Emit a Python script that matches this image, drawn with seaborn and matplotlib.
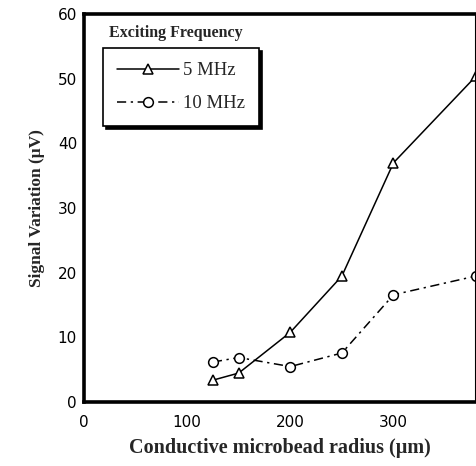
import numpy as np
import pandas as pd
import matplotlib
matplotlib.use("Agg")
import matplotlib.pyplot as plt
import seaborn as sns

# values
radius = [125, 150, 200, 250, 300, 380]
signal_5mhz = [3.4, 4.5, 10.8, 19.5, 37.0, 50.4]
signal_10mhz = [6.2, 6.9, 5.5, 7.6, 16.6, 19.5]
series = ["5 MHz", "10 MHz"]

df = pd.DataFrame({
    "radius": radius * 2,
    "signal": signal_5mhz + signal_10mhz,
    "freq": [series[0]] * len(radius) + [series[1]] * len(radius),
})

sns.set_style("white")
plt.rcParams["font.family"] = ["Liberation Serif", "DejaVu Serif"]

fig = plt.figure(figsize=(4.77, 4.66), dpi=100)
ax = fig.add_axes([0.176, 0.137, 0.822, 0.833])

sns.lineplot(data=df, x="radius", y="signal", hue="freq", style="freq",
             palette={"5 MHz": "black", "10 MHz": "black"},
             markers={"5 MHz": "^", "10 MHz": "o"},
             dashes={"5 MHz": "", "10 MHz": (6, 3, 1.5, 3)},
             markersize=7, markerfacecolor="white", markeredgecolor="black",
             markeredgewidth=1.1, linewidth=1.1, legend=False, ax=ax)

ax.set_xlim(0, 380)
ax.set_ylim(0, 60)
ax.set_xticks([0, 100, 200, 300])
ax.set_yticks(np.arange(0, 61, 10))
ax.tick_params(direction="in", length=4, width=1.2, labelsize=11,
               colors="black")
ax.tick_params(axis="x", pad=9)
ax.tick_params(axis="y", pad=5)
for lab in ax.get_xticklabels() + ax.get_yticklabels():
    lab.set_family("DejaVu Sans")

for side in ["left", "bottom", "top"]:
    ax.spines[side].set_linewidth(2.6)
ax.spines["right"].set_linewidth(1.5)
for s in ax.spines.values():
    s.set_color("black")

ax.set_xlabel("Conductive microbead radius (\u03bcm)", fontsize=14.5,
              fontweight="bold", labelpad=6)
ax.set_ylabel("Signal Variation (\u03bcV)", fontsize=12.5,
              fontweight="bold", labelpad=9)

handles = ax.lines[:2]
leg = ax.legend(handles, series, loc="upper left",
                bbox_to_anchor=(0.048, 0.912), borderaxespad=0,
                frameon=True, fancybox=False, edgecolor="black",
                shadow={"color": "black", "alpha": 1.0},
                prop={"size": 13.5}, handlelength=3.3, labelspacing=0.85,
                borderpad=0.75, handletextpad=0.25)
leg.get_frame().set_linewidth(1.2)

ax.text(0.235, 0.95, "Exciting Frequency", transform=ax.transAxes,
        ha="center", va="center", fontsize=11.5, fontweight="bold")

fig.savefig("out.png", dpi=100)
